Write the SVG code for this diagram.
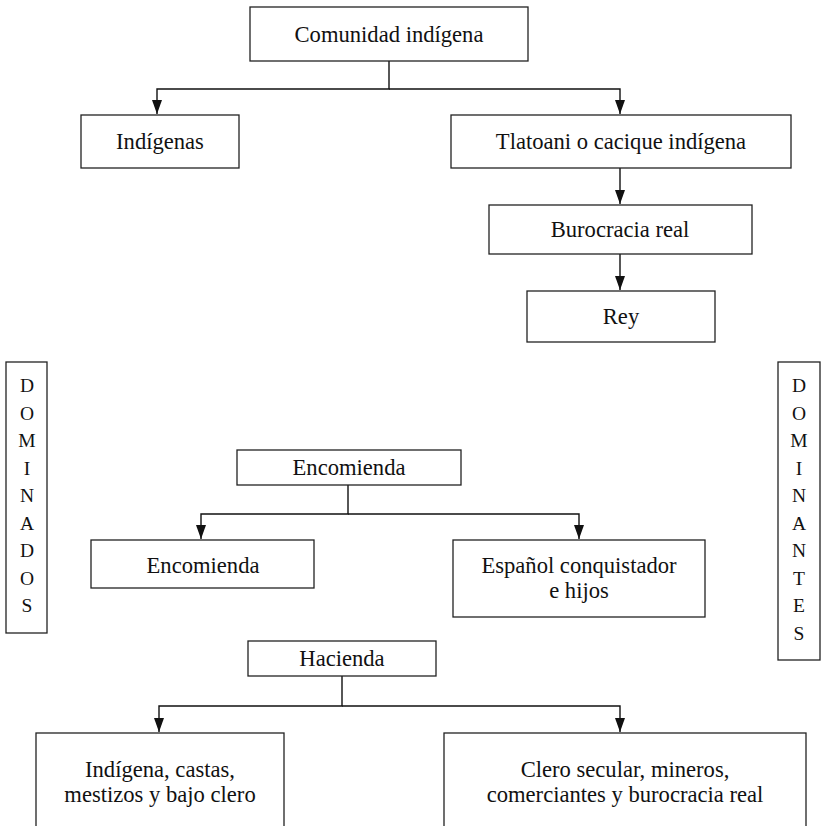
<svg xmlns="http://www.w3.org/2000/svg" width="829" height="826" viewBox="0 0 829 826">
  <style>
    .box { fill: #fff; stroke: #222; stroke-width: 1.3; }
    .lbl { font-family: "Liberation Serif", "DejaVu Serif", serif; font-size: 22.6px; fill: #111; text-anchor: middle; }
    .side { font-family: "Liberation Serif", "DejaVu Serif", serif; font-size: 19.5px; fill: #111; text-anchor: middle; }
    .wire { fill: none; stroke: #111; stroke-width: 1.4; }
  </style>
  <defs>
    <marker id="ah" viewBox="0 0 14 10" refX="14" refY="5" markerWidth="14" markerHeight="10" markerUnits="userSpaceOnUse" orient="auto">
      <path d="M0,0 L14,5 L0,10 z" fill="#111"/>
    </marker>
  </defs>
  <rect width="829" height="826" fill="#fff"/>

  <!-- connectors -->
  <g id="connectors">
    <path class="wire" d="M389,61 V89 H157 V114" marker-end="url(#ah)"/>
    <path class="wire" d="M389,89 H620 V114" marker-end="url(#ah)"/>
    <path class="wire" d="M620,168 V204" marker-end="url(#ah)"/>
    <path class="wire" d="M620,254 V290" marker-end="url(#ah)"/>
    <path class="wire" d="M348,485 V514 H201 V539" marker-end="url(#ah)"/>
    <path class="wire" d="M348,514 H579 V539" marker-end="url(#ah)"/>
    <path class="wire" d="M342,676 V706 H159 V732" marker-end="url(#ah)"/>
    <path class="wire" d="M342,706 H620 V732" marker-end="url(#ah)"/>
  </g>

  <!-- upper tree -->
  <g id="comunidad">
    <rect class="box" x="250" y="7" width="278" height="54"/>
    <text class="lbl" x="389" y="42">Comunidad indígena</text>
  </g>
  <g id="indigenas">
    <rect class="box" x="81" y="115" width="158" height="53"/>
    <text class="lbl" x="160" y="149">Indígenas</text>
  </g>
  <g id="tlatoani">
    <rect class="box" x="451" y="115" width="340" height="53"/>
    <text class="lbl" x="621" y="149">Tlatoani o cacique indígena</text>
  </g>
  <g id="burocracia">
    <rect class="box" x="489" y="205" width="263" height="49"/>
    <text class="lbl" x="620" y="237">Burocracia real</text>
  </g>
  <g id="rey">
    <rect class="box" x="527" y="291" width="188" height="51"/>
    <text class="lbl" x="621" y="324">Rey</text>
  </g>

  <!-- side labels -->
  <g id="dominados">
    <rect class="box" x="6" y="362" width="41" height="271"/>
    <text class="side" y="392">
      <tspan x="27">D</tspan><tspan x="27" dy="27.5">O</tspan><tspan x="27" dy="27.5">M</tspan><tspan x="27" dy="27.5">I</tspan><tspan x="27" dy="27.5">N</tspan><tspan x="27" dy="27.5">A</tspan><tspan x="27" dy="27.5">D</tspan><tspan x="27" dy="27.5">O</tspan><tspan x="27" dy="27.5">S</tspan>
    </text>
  </g>
  <g id="dominantes">
    <rect class="box" x="778" y="362" width="42" height="298"/>
    <text class="side" y="392">
      <tspan x="799">D</tspan><tspan x="799" dy="27.5">O</tspan><tspan x="799" dy="27.5">M</tspan><tspan x="799" dy="27.5">I</tspan><tspan x="799" dy="27.5">N</tspan><tspan x="799" dy="27.5">A</tspan><tspan x="799" dy="27.5">N</tspan><tspan x="799" dy="27.5">T</tspan><tspan x="799" dy="27.5">E</tspan><tspan x="799" dy="27.5">S</tspan>
    </text>
  </g>

  <!-- encomienda tree -->
  <g id="encomienda-head">
    <rect class="box" x="237" y="450" width="224" height="35"/>
    <text class="lbl" x="349" y="475">Encomienda</text>
  </g>
  <g id="encomienda">
    <rect class="box" x="91" y="540" width="223" height="48"/>
    <text class="lbl" x="203" y="573">Encomienda</text>
  </g>
  <g id="espanol">
    <rect class="box" x="453" y="540" width="252" height="77"/>
    <text class="lbl" x="579" y="573">Español conquistador</text>
    <text class="lbl" x="579" y="598">e hijos</text>
  </g>

  <!-- hacienda tree -->
  <g id="hacienda-head">
    <rect class="box" x="248" y="641" width="188" height="35"/>
    <text class="lbl" x="342" y="666">Hacienda</text>
  </g>
  <g id="dominados-hacienda">
    <rect class="box" x="36" y="733" width="248" height="110"/>
    <text class="lbl" x="160" y="777">Indígena, castas,</text>
    <text class="lbl" x="160" y="802">mestizos y bajo clero</text>
  </g>
  <g id="dominantes-hacienda">
    <rect class="box" x="444" y="733" width="362" height="110"/>
    <text class="lbl" x="625" y="777">Clero secular, mineros,</text>
    <text class="lbl" x="625" y="802">comerciantes y burocracia real</text>
  </g>
</svg>
